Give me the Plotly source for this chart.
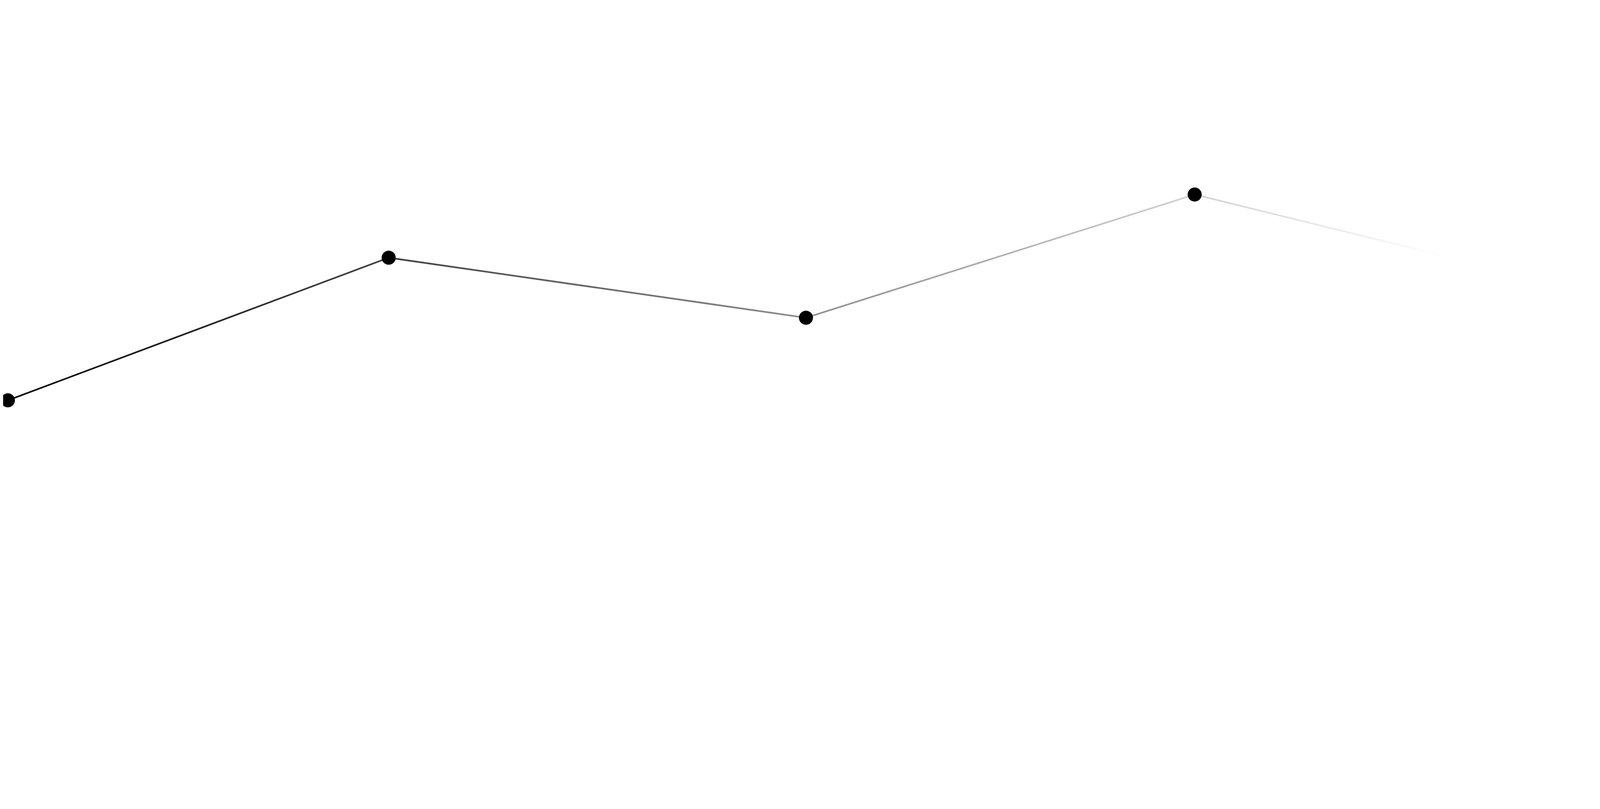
import plotly.graph_objects as go

# data points
x_vals = [0, 24, 50.3, 74.8, 90.8]
y_vals = [36.5, 59.3, 49.7, 69.4, 59.4]

y_range = [0, 100]
half_w = 0.135  # half line thickness in y data units

fig = go.Figure()

# line drawn as a thin filled band so it can take a black -> white gradient
band_x = x_vals + x_vals[::-1]
band_y = [v + half_w for v in y_vals] + [v - half_w for v in y_vals[::-1]]
fig.add_trace(go.Scatter(
    x=band_x, y=band_y,
    mode="lines",
    fill="toself",
    line=dict(width=0, color="rgba(0,0,0,0)"),
    fillgradient=dict(type="horizontal",
                      colorscale=[[0, "#000000"], [1, "#ffffff"]]),
    hoverinfo="skip",
    showlegend=False,
))

# markers (last point fades out with the line)
fig.add_trace(go.Scatter(
    x=x_vals[:-1], y=y_vals[:-1],
    mode="markers",
    marker=dict(color="#000000", size=36, line=dict(width=0)),
    cliponaxis=False,
    showlegend=False,
))

fig.update_layout(
    autosize=True,
    height=1602,
    margin=dict(l=0, r=0, t=0, b=0),
    paper_bgcolor="white",
    plot_bgcolor="white",
    xaxis=dict(range=[-0.3, 100.15], visible=False),
    yaxis=dict(range=y_range, visible=False),
)

fig.write_html("out.html")
